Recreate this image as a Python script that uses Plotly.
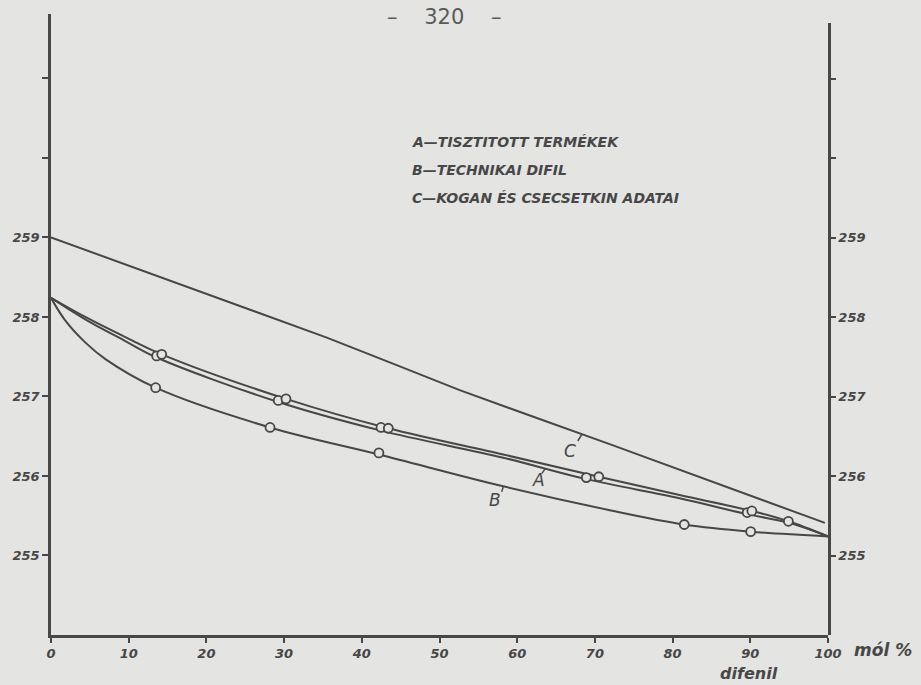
import plotly.graph_objects as go

# ---- data ----
# curve A (purified products) drawn as two close lines
A1_x = [0, 4.4, 9.5, 14.25, 30.24, 43.41, 58.2, 70.5, 80.9, 90.2, 94.9, 100]
A1_y = [258.24, 258.00, 257.75, 257.53, 256.97, 256.60, 256.27, 255.99, 255.76, 255.56, 255.43, 255.24]
A2_x = [0, 4.4, 9.5, 13.6, 29.25, 42.47, 58.2, 68.9, 80.9, 89.6, 95, 100]
A2_y = [258.24, 257.97, 257.70, 257.49, 256.93, 256.57, 256.23, 255.96, 255.72, 255.52, 255.41, 255.24]
A_mark_x = [13.6, 14.25, 29.25, 30.24, 42.47, 43.41, 68.9, 70.5, 89.6, 90.2, 94.9]
A_mark_y = [257.51, 257.53, 256.95, 256.97, 256.61, 256.60, 255.98, 255.99, 255.54, 255.56, 255.43]

# curve B (technical diphenyl)
B_x = [0, 1.8, 4.4, 7.0, 13.47, 28.19, 42.2, 58.2, 71.9, 81.5, 90.05, 100]
B_y = [258.24, 257.96, 257.68, 257.47, 257.11, 256.61, 256.27, 255.87, 255.57, 255.39, 255.30, 255.24]
B_mark_x = [13.47, 28.19, 42.2, 81.5, 90.05]
B_mark_y = [257.11, 256.61, 256.29, 255.39, 255.30]

# curve C (Kogan & Csecsetkin data)
C_x = [0, 35.5, 52.6, 71.9, 99.6]
C_y = [259.0, 257.74, 257.08, 256.40, 255.41]

x_ticks = [0, 10, 20, 30, 40, 50, 60, 70, 80, 90, 100]
y_ticks = [255, 256, 257, 258, 259, 260, 261]
y_ticktext = ["255", "256", "257", "258", "259", "", ""]

legend_lines = ["A\u2014TISZTITOTT TERMÉKEK", "B\u2014TECHNIKAI DIFIL", "C\u2014KOGAN ÉS CSECSETKIN ADATAI"]
curve_labels = ["A", "B", "C"]
curve_label_x = [62.7, 57.1, 66.8]
curve_label_y = [255.95, 255.70, 256.31]
# little pointer strokes from each letter towards its curve: (x0, y0, x1, y1)
pointer_strokes = [(63.15, 256.03, 63.6, 256.09), (58.0, 255.80, 58.2, 255.86), (67.8, 256.44, 68.3, 256.52)]

# ---- style ----
INK = "#474747"
PAPER = "#e4e4e2"
FONT = "DejaVu Sans"

fig = go.Figure()

line_style = dict(color=INK, width=2, shape="spline", smoothing=1.0)
fig.add_trace(go.Scatter(x=C_x, y=C_y, mode="lines", line=dict(color=INK, width=2, shape="spline", smoothing=0.5)))
fig.add_trace(go.Scatter(x=A1_x, y=A1_y, mode="lines", line=line_style))
fig.add_trace(go.Scatter(x=A2_x, y=A2_y, mode="lines", line=line_style))
fig.add_trace(go.Scatter(x=B_x, y=B_y, mode="lines", line=line_style))
marker_style = dict(symbol="circle", size=9, color=PAPER, line=dict(color=INK, width=1.8))
fig.add_trace(go.Scatter(x=A_mark_x, y=A_mark_y, mode="markers", marker=marker_style))
fig.add_trace(go.Scatter(x=B_mark_x, y=B_mark_y, mode="markers", marker=marker_style))
# helper trace for right-hand axis
fig.add_trace(go.Scatter(x=[50], y=[258], yaxis="y2", mode="markers", marker=dict(opacity=0), hoverinfo="skip"))

tickfont = dict(family=FONT, size=13, color=INK, weight="bold", style="italic")

fig.update_layout(
    width=921, height=685,
    margin=dict(l=51, r=93, t=14, b=50),
    paper_bgcolor=PAPER, plot_bgcolor="rgba(0,0,0,0)",
    showlegend=False,
    xaxis=dict(range=[0, 100], tickvals=x_ticks, showgrid=False, zeroline=False,
               showline=True, linecolor=INK, linewidth=2.5, ticks="outside", ticklen=5,
               tickwidth=2, tickcolor=INK, tickfont=tickfont),
    yaxis=dict(range=[254, 261.81], tickvals=y_ticks, ticktext=y_ticktext, showgrid=False,
               zeroline=False, showline=True, linecolor=INK, linewidth=2.5, ticks="outside",
               ticklen=6, tickwidth=2, tickcolor=INK, tickfont=tickfont),
    yaxis2=dict(range=[254, 261.70], domain=[0, 612 / 621], anchor="x", side="right",
                tickvals=y_ticks, ticktext=y_ticktext, showgrid=False, zeroline=False,
                showline=True, linecolor=INK, linewidth=2.5, ticks="outside", ticklen=5,
                tickwidth=2, tickcolor=INK, tickfont=tickfont),
)

for x0, y0, x1, y1 in pointer_strokes:
    fig.add_shape(type="line", x0=x0, y0=y0, x1=x1, y1=y1, line=dict(color=INK, width=1.5))

# page number
fig.add_annotation(text="\u2013    320    \u2013", xref="paper", yref="paper", x=(444 - 51) / 777, y=(635 - 17) / 621,
                   xanchor="center", yanchor="middle", showarrow=False,
                   font=dict(family="DejaVu Sans", size=21, color="#5a5a5a", weight="normal"))

# legend text
for i, t in enumerate(legend_lines):
    fig.add_annotation(text=t, xref="paper", yref="paper", x=(410 - 51) / 777,
                       y=(635 - (142 + 28 * i)) / 621, xanchor="left", yanchor="middle",
                       showarrow=False,
                       font=dict(family=FONT, size=14, color=INK, weight="bold", style="italic"))

# curve letters
for lab, lx, ly in zip(curve_labels, curve_label_x, curve_label_y):
    fig.add_annotation(text=lab, x=lx, y=ly, showarrow=False,
                       font=dict(family=FONT, size=17, color=INK, style="italic"))

# axis captions
fig.add_annotation(text="mól %", xref="paper", yref="paper", x=(852 - 51) / 777, y=(635 - 650) / 621,
                   xanchor="left", yanchor="middle", showarrow=False,
                   font=dict(family=FONT, size=17, color=INK, weight="bold", style="italic"))
fig.add_annotation(text="difenil", xref="paper", yref="paper", x=(749 - 51) / 777, y=(635 - 673) / 621,
                   xanchor="center", yanchor="middle", showarrow=False,
                   font=dict(family=FONT, size=16, color=INK, weight="bold", style="italic"))

fig.write_html("out.html")
